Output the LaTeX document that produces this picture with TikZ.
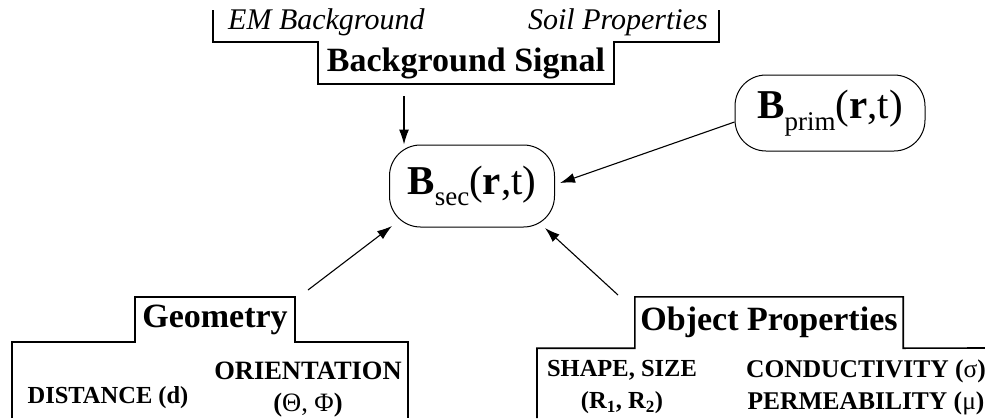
\documentclass[tikz,border=0pt]{standalone}
\usepackage{fontspec}
\setmainfont{Liberation Serif}
\usetikzlibrary{arrows.meta,positioning,calc}

\begin{document}
\begin{tikzpicture}
[
	x=1pt,y=-1pt,
	tabtitle/.style={inner sep=0pt,font=\fontsize{34}{38}\selectfont\bfseries},
	subhead/.style={inner sep=0pt,font=\fontsize{30}{34}\selectfont\itshape},
	item/.style={inner sep=0pt,align=center,font=\fontsize{24.5}{32}\selectfont\bfseries},
	oval/.style={draw=black,line width=1pt,rounded corners=31pt,inner sep=0pt},
	arr/.style={-{Latex[length=15pt,width=10pt]},line width=1.1pt},
	frame/.style={line width=1.6pt},
]
	\useasboundingbox (0,0) rectangle (985,418);

	% background signal (upside down tab)
	\begin{scope}
		\node[tabtitle,minimum width=296pt,minimum height=42pt] (bgsig) at (466,63) {Background Signal};
		\node[subhead,anchor=west] (embg) at (228,22) {EM Background};
		\node[subhead,anchor=east] (soil) at (708,22) {Soil Properties};
		\draw[frame] (213,10) |- (bgsig.north west) -- (bgsig.south west) -- (bgsig.south east) -- (bgsig.north east) -| (719,10);
	\end{scope}

	% fields
	\begin{scope}
		\node[oval,minimum width=165pt,minimum height=82pt] (bsec) at (472,186)
			{\fontsize{41}{44}\selectfont\textbf{B}\raisebox{-0.28em}{\fontsize{27}{30}\selectfont sec}(\textbf{r},t)};
		\node[oval,minimum width=190pt,minimum height=76pt] (bprim) at (830,113)
			{\fontsize{41}{44}\selectfont\textbf{B}\raisebox{-0.28em}{\fontsize{27}{30}\selectfont prim}(\textbf{r},t)};
	\end{scope}

	% geometry
	\begin{scope}
		\node[tabtitle,minimum width=160pt,minimum height=45pt] (geom) at (215,319.5) {Geometry};
		\draw[frame] (12,418) |- (geom.south west) -- (geom.north west) -- (geom.north east) -- (geom.south east) -| (408,418);
		\node[item] (dist) at (108,398) {DISTANCE (d)};
		\node[item,font=\fontsize{26.5}{32}\selectfont\bfseries] (orient) at (308,390) {ORIENTATION\\({\mdseries Θ, Φ})};
	\end{scope}

	% object properties
	\begin{scope}
		\node[tabtitle,minimum width=268pt,minimum height=51pt] (objprop) at (769,322.5) {Object Properties};
		\draw[frame] (537,418) |- (objprop.south west) -- (objprop.north west) -- (objprop.north east) -- (objprop.south east) -- (985,348);
		\node[item] (shape) at (622,387) {SHAPE, SIZE\\(R\textsubscript{1}, R\textsubscript{2})};
		\node[item,font=\fontsize{25.5}{32}\selectfont\bfseries] (cond) at (866,387) {CONDUCTIVITY ({\mdseries σ})\\PERMEABILITY ({\mdseries μ})};
	\end{scope}

	% arrows
	\coordinate (bgtail) at (404,96);
	\coordinate (geomtail) at (308,290);
	\coordinate (objtail) at (618,295);
	\draw[arr] (bgtail) -- (bgtail |- bsec.north);
	\draw[arr] ([yshift=-9pt]bprim.west) -- ([xshift=5pt,yshift=3pt]bsec.east);
	\draw[arr] (geomtail) -- ([xshift=-80pt,yshift=-40pt]bsec.center);
	\draw[arr] (objtail) -- ([xshift=73pt,yshift=-42pt]bsec.center);
\end{tikzpicture}
\end{document}
